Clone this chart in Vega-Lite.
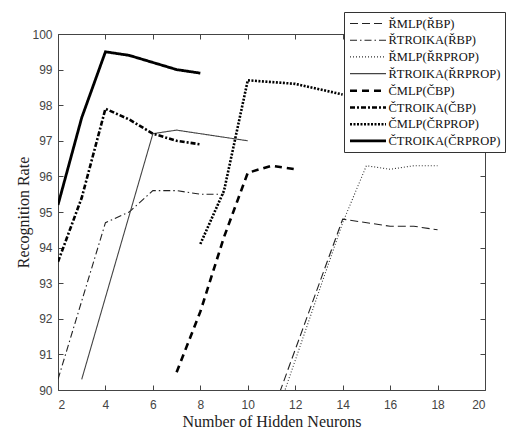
{
  "$schema": "https://vega.github.io/schema/vega-lite/v6.json",
  "width": 427,
  "height": 356,
  "autosize": {"type": "none"},
  "padding": {"left": 58, "top": 34, "right": 25, "bottom": 40},
  "background": "white",
  "config": {
    "view": {"stroke": null},
    "axis": {
      "grid": false,
      "domainColor": "#444",
      "tickColor": "#444",
      "tickSize": -5,
      "labelFont": "Liberation Sans",
      "labelFontSize": 12,
      "labelColor": "#444",
      "titleFont": "Liberation Serif",
      "titleFontSize": 16,
      "titleFontWeight": "normal",
      "titleColor": "#222"
    },
    "legend": {
      "labelFont": "Liberation Serif",
      "labelFontSize": 12.5,
      "labelColor": "#111"
    }
  },
  "data": {
    "values": [
      {"s": "ŘMLP(ŘBP)", "x": 11, "y": 89.3},
      {"s": "ŘMLP(ŘBP)", "x": 14, "y": 94.8},
      {"s": "ŘMLP(ŘBP)", "x": 16, "y": 94.6},
      {"s": "ŘMLP(ŘBP)", "x": 17, "y": 94.6},
      {"s": "ŘMLP(ŘBP)", "x": 18, "y": 94.5},
      {"s": "ŘTROIKA(ŘBP)", "x": 2, "y": 90.3},
      {"s": "ŘTROIKA(ŘBP)", "x": 4, "y": 94.7},
      {"s": "ŘTROIKA(ŘBP)", "x": 5, "y": 95.0},
      {"s": "ŘTROIKA(ŘBP)", "x": 6, "y": 95.6},
      {"s": "ŘTROIKA(ŘBP)", "x": 7, "y": 95.6},
      {"s": "ŘTROIKA(ŘBP)", "x": 8, "y": 95.5},
      {"s": "ŘTROIKA(ŘBP)", "x": 9, "y": 95.5},
      {"s": "ŘMLP(ŘRPROP)", "x": 11, "y": 88.9},
      {"s": "ŘMLP(ŘRPROP)", "x": 14, "y": 94.7},
      {"s": "ŘMLP(ŘRPROP)", "x": 15, "y": 96.3},
      {"s": "ŘMLP(ŘRPROP)", "x": 16, "y": 96.2},
      {"s": "ŘMLP(ŘRPROP)", "x": 17, "y": 96.3},
      {"s": "ŘMLP(ŘRPROP)", "x": 18, "y": 96.3},
      {"s": "ŘTROIKA(ŘRPROP)", "x": 3, "y": 90.3},
      {"s": "ŘTROIKA(ŘRPROP)", "x": 6, "y": 97.2},
      {"s": "ŘTROIKA(ŘRPROP)", "x": 7, "y": 97.3},
      {"s": "ŘTROIKA(ŘRPROP)", "x": 10, "y": 97.0},
      {"s": "ČMLP(ČBP)", "x": 7, "y": 90.5},
      {"s": "ČMLP(ČBP)", "x": 8, "y": 92.2},
      {"s": "ČMLP(ČBP)", "x": 9, "y": 94.3},
      {"s": "ČMLP(ČBP)", "x": 10, "y": 96.1},
      {"s": "ČMLP(ČBP)", "x": 11, "y": 96.3},
      {"s": "ČMLP(ČBP)", "x": 12, "y": 96.2},
      {"s": "ČTROIKA(ČBP)", "x": 2, "y": 93.6},
      {"s": "ČTROIKA(ČBP)", "x": 3, "y": 95.4},
      {"s": "ČTROIKA(ČBP)", "x": 4, "y": 97.9},
      {"s": "ČTROIKA(ČBP)", "x": 5, "y": 97.6},
      {"s": "ČTROIKA(ČBP)", "x": 6, "y": 97.2},
      {"s": "ČTROIKA(ČBP)", "x": 7, "y": 97.0},
      {"s": "ČTROIKA(ČBP)", "x": 8, "y": 96.9},
      {"s": "ČMLP(ČRPROP)", "x": 8, "y": 94.1},
      {"s": "ČMLP(ČRPROP)", "x": 9, "y": 95.6},
      {"s": "ČMLP(ČRPROP)", "x": 10, "y": 98.7},
      {"s": "ČMLP(ČRPROP)", "x": 11, "y": 98.65},
      {"s": "ČMLP(ČRPROP)", "x": 12, "y": 98.6},
      {"s": "ČMLP(ČRPROP)", "x": 13, "y": 98.45},
      {"s": "ČMLP(ČRPROP)", "x": 14, "y": 98.3},
      {"s": "ČTROIKA(ČRPROP)", "x": 2, "y": 95.2},
      {"s": "ČTROIKA(ČRPROP)", "x": 3, "y": 97.65},
      {"s": "ČTROIKA(ČRPROP)", "x": 4, "y": 99.5},
      {"s": "ČTROIKA(ČRPROP)", "x": 5, "y": 99.4},
      {"s": "ČTROIKA(ČRPROP)", "x": 6, "y": 99.2},
      {"s": "ČTROIKA(ČRPROP)", "x": 7, "y": 99.0},
      {"s": "ČTROIKA(ČRPROP)", "x": 8, "y": 98.9}
    ]
  },
  "resolve": {"axis": {"x": "independent", "y": "independent"}},
  "layer": [
    {
      "mark": {"type": "line", "clip": true, "strokeCap": "butt"},
      "encoding": {
        "x": {"field": "x", "type": "quantitative",
              "scale": {"domain": [2, 20], "nice": false, "zero": false},
              "axis": {"values": [2,4,6,8,10,12,14,16,18,20], "title": "Number of Hidden Neurons", "labelPadding": 14, "titlePadding": 3}},
        "y": {"field": "y", "type": "quantitative",
              "scale": {"domain": [90, 100], "nice": false, "zero": false},
              "axis": {"values": [90,91,92,93,94,95,96,97,98,99,100], "title": "Recognition Rate", "labelPadding": 11, "titlePadding": 0}},
        "detail": {"field": "s"},
        "strokeDash": {"field": "s", "type": "nominal",
          "scale": {"domain": ["ŘMLP(ŘBP)", "ŘTROIKA(ŘBP)", "ŘMLP(ŘRPROP)", "ŘTROIKA(ŘRPROP)", "ČMLP(ČBP)", "ČTROIKA(ČBP)", "ČMLP(ČRPROP)", "ČTROIKA(ČRPROP)"],
                    "range": [[8, 4], [7, 3, 1.5, 3], [1, 2], [1, 0], [7, 5], [5, 2, 2, 2], [2, 1.5], [1, 0]]},
          "legend": {"title": null, "orient": "none", "legendX": 286, "legendY": -22, "symbolType": "M-3,0H3", "symbolSize": 144, "symbolOffset": 12,
                     "strokeColor": "#333", "fillColor": "white", "padding": 4.5, "rowPadding": 2.7, "labelOffset": 13}},
        "strokeWidth": {"field": "s", "type": "nominal",
          "scale": {"type": "ordinal", "domain": ["ŘMLP(ŘBP)", "ŘTROIKA(ŘBP)", "ŘMLP(ŘRPROP)", "ŘTROIKA(ŘRPROP)", "ČMLP(ČBP)", "ČTROIKA(ČBP)", "ČMLP(ČRPROP)", "ČTROIKA(ČRPROP)"],
                    "range": [1.1, 1.1, 1.1, 1.1, 2.6, 2.6, 2.6, 2.8]},
          "legend": {"title": null, "orient": "none", "legendX": 286, "legendY": -22, "symbolType": "M-3,0H3", "symbolSize": 144, "symbolOffset": 12,
                     "strokeColor": "#333", "fillColor": "white", "padding": 4.5, "rowPadding": 2.7, "labelOffset": 13}},
        "color": {"field": "s", "type": "nominal",
          "scale": {"domain": ["ŘMLP(ŘBP)", "ŘTROIKA(ŘBP)", "ŘMLP(ŘRPROP)", "ŘTROIKA(ŘRPROP)", "ČMLP(ČBP)", "ČTROIKA(ČBP)", "ČMLP(ČRPROP)", "ČTROIKA(ČRPROP)"],
                    "range": ["#222", "#222", "#333", "#444", "#000", "#000", "#000", "#000"]},
          "legend": {"title": null, "orient": "none", "legendX": 286, "legendY": -22, "symbolType": "M-3,0H3", "symbolSize": 144, "symbolOffset": 12,
                     "strokeColor": "#333", "fillColor": "white", "padding": 4.5, "rowPadding": 2.7, "labelOffset": 13}}
      }
    },
    {
      "mark": {"type": "line", "opacity": 0},
      "encoding": {
        "x": {"field": "x", "type": "quantitative",
              "axis": {"orient": "top", "values": [2,4,6,8,10,12,14,16,18,20], "labels": false, "title": null}},
        "y": {"field": "y", "type": "quantitative",
              "axis": {"orient": "right", "values": [90,91,92,93,94,95,96,97,98,99,100], "labels": false, "title": null}},
        "detail": {"field": "s"}
      }
    }
  ]
}
